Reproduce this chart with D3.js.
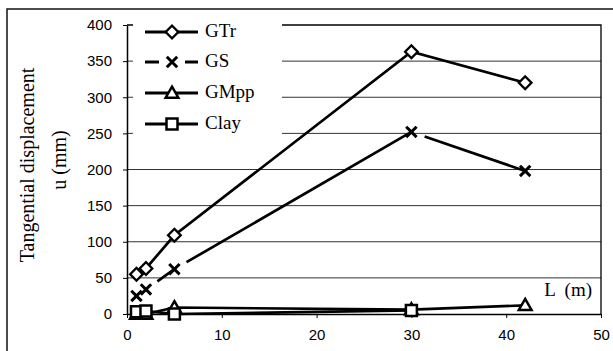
<!DOCTYPE html>
<html>
<head>
<meta charset="utf-8">
<script src="https://cdn.jsdelivr.net/npm/d3@7"></script>
<style>
  body { margin: 0; background: #fff; }
  svg { display: block; }
</style>
</head>
<body>
<svg id="chart" width="613" height="351"></svg>
<script>
// values
const lengths = [1, 2, 5, 30, 42];
const gtr = [55, 63, 109, 363, 320];
const gs = [25, 34, 62, 252, 198];
const gmpp = [0, 0, 9, 6, 12];
const clayLengths = [1, 2, 5, 30];
const clay = [3, 4, 0, 5];
const xTicks = [0, 10, 20, 30, 40, 50];
const yTicks = [0, 50, 100, 150, 200, 250, 300, 350, 400];
const legendNames = ['GTr', 'GS', 'GMpp', 'Clay'];

const width = 613, height = 351;
const margin = { top: 25, right: 12, bottom: 37, left: 127 };

const svg = d3.select('#chart');

const x = d3.scaleLinear().domain([0, 50]).range([margin.left, width - margin.right]);
const y = d3.scaleLinear().domain([0, 400]).range([height - margin.bottom, margin.top]);

// outer frame
svg.append('rect')
  .attr('x', 7).attr('y', 9)
  .attr('width', 640).attr('height', 380)
  .attr('fill', 'none')
  .attr('stroke', '#111')
  .attr('stroke-width', 1.5);

// gridlines
svg.append('g')
  .selectAll('line')
  .data(yTicks.filter(d => d > 0 && d < 400))
  .join('line')
  .attr('x1', x(0)).attr('x2', x(50))
  .attr('y1', d => y(d)).attr('y2', d => y(d))
  .attr('stroke', '#333')
  .attr('stroke-width', 1);

// plot border top / right
svg.append('path')
  .attr('d', `M${x(0)},${y(400)}H${x(50)}V${y(0)}`)
  .attr('fill', 'none')
  .attr('stroke', '#000')
  .attr('stroke-width', 1.3);

const xAxis = svg.append('g')
  .attr('transform', `translate(0,${y(0)})`)
  .call(d3.axisBottom(x).tickValues(xTicks).tickSize(4).tickPadding(11).tickSizeOuter(0));

const yAxis = svg.append('g')
  .attr('transform', `translate(${x(0)},0)`)
  .call(d3.axisLeft(y).tickValues(yTicks).tickSize(4).tickPadding(11).tickSizeOuter(0));

[xAxis, yAxis].forEach(a => {
  a.selectAll('.domain').attr('stroke', '#000').attr('stroke-width', 1.5);
  a.selectAll('.tick line').attr('stroke', '#000');
  a.selectAll('text')
    .attr('font-family', 'Liberation Sans, Arial, sans-serif')
    .attr('font-size', 15)
    .attr('fill', '#000');
});

// axis titles
const title = svg.append('g')
  .attr('font-family', 'Liberation Serif, Times New Roman, serif')
  .attr('font-size', 20)
  .attr('text-anchor', 'middle');
title.append('text')
  .attr('transform', 'translate(34,165) rotate(-90)')
  .text('Tangential displacement');
title.append('text')
  .attr('transform', 'translate(66,160) rotate(-90)')
  .text('u (mm)');

svg.append('text')
  .attr('x', 592).attr('y', 296)
  .attr('text-anchor', 'end')
  .attr('font-family', 'Liberation Serif, Times New Roman, serif')
  .attr('font-size', 19)
  .attr('xml:space', 'preserve')
  .text('L  (m)');

// series
const line = d3.line().x(d => x(d[0])).y(d => y(d[1]));

const series = [
  { name: 'GTr', pts: d3.zip(lengths, gtr), symbol: 'diamond' },
  { name: 'GS', pts: d3.zip(lengths, gs), symbol: 'times', dashed: true },
  { name: 'GMpp', pts: d3.zip(lengths, gmpp), symbol: 'triangle' },
  { name: 'Clay', pts: d3.zip(clayLengths, clay), symbol: 'square' }
];

function drawMarker(g, type) {
  if (type === 'diamond') {
    g.append('path')
      .attr('d', d3.symbol(d3.symbolSquare, 80)())
      .attr('transform', 'rotate(45)')
      .attr('fill', '#fff').attr('stroke', '#000').attr('stroke-width', 2.3);
  } else if (type === 'times') {
    g.append('path')
      .attr('d', d3.symbol(d3.symbolTimes, 72)())
      .attr('fill', 'none').attr('stroke', '#000').attr('stroke-width', 3);
  } else if (type === 'triangle') {
    g.append('path')
      .attr('d', d3.symbol(d3.symbolTriangle, 70)())
      .attr('transform', 'translate(0,1)')
      .attr('fill', '#fff').attr('stroke', '#000').attr('stroke-width', 2.5);
  } else {
    g.append('path')
      .attr('d', d3.symbol(d3.symbolSquare, 121)())
      .attr('fill', '#fff').attr('stroke', '#000').attr('stroke-width', 2.5);
  }
}

series.forEach(s => {
  if (s.dashed) {
    // long dash, each segment starts with a short gap after the marker
    svg.append('g').selectAll('path')
      .data(d3.pairs(s.pts))
      .join('path')
      .attr('d', d => line(d))
      .attr('fill', 'none')
      .attr('stroke', '#000')
      .attr('stroke-width', 2.7)
      .attr('stroke-dasharray', '1000 14')
      .attr('stroke-dashoffset', 1000);
  } else {
    svg.append('path')
      .attr('d', line(s.pts))
      .attr('fill', 'none')
      .attr('stroke', '#000')
      .attr('stroke-width', 2.7);
  }
});

// markers drawn after all lines, in series order
series.forEach(s => {
  svg.append('g').selectAll('g')
    .data(s.pts)
    .join('g')
    .attr('transform', d => `translate(${x(d[0])},${y(d[1])})`)
    .each(function () { drawMarker(d3.select(this), s.symbol); });
});

// legend
const legend = svg.append('g');
legend.append('rect')
  .attr('x', 133).attr('y', 18)
  .attr('width', 149).attr('height', 130)
  .attr('fill', '#fff');

const rowY = [32, 62, 93, 124];
legendNames.forEach((name, i) => {
  const s = series[i];
  const row = legend.append('g').attr('transform', `translate(0,${rowY[i]})`);
  if (s.dashed) {
    row.append('path').attr('d', 'M145,0H159M185,0H198')
      .attr('stroke', '#000').attr('stroke-width', 3.2);
  } else {
    row.append('path').attr('d', 'M145,0H198')
      .attr('stroke', '#000').attr('stroke-width', 3.2);
  }
  drawMarker(row.append('g').attr('transform', 'translate(172,0)'), s.symbol);
  row.append('text')
    .attr('x', 205).attr('y', 5)
    .attr('font-family', 'Liberation Serif, Times New Roman, serif')
    .attr('font-size', 19)
    .text(name);
});
</script>
</body>
</html>
